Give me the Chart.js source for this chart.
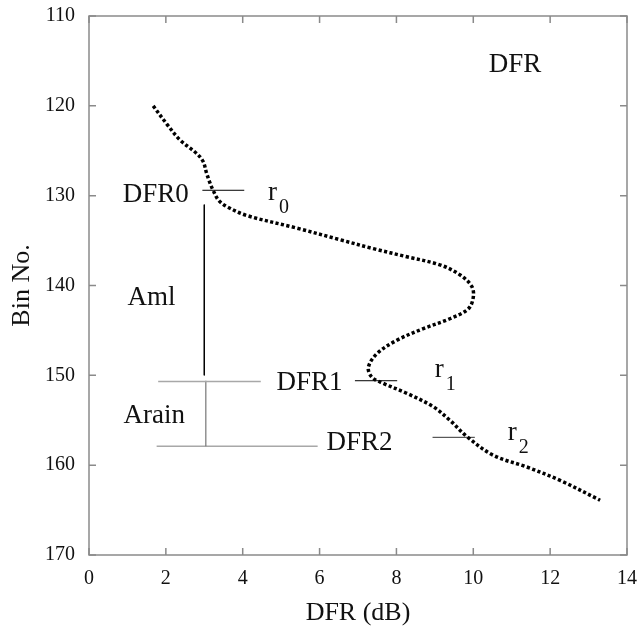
<!DOCTYPE html>
<html>
<head>
<meta charset="utf-8">
<script src="https://cdn.jsdelivr.net/npm/chart.js@4/dist/chart.umd.min.js"></script>
<style>
  html, body { margin: 0; padding: 0; background: #fff; }
  #wrap { width: 640px; height: 635px; }
</style>
</head>
<body>
<div id="wrap"><canvas id="c" width="640" height="635"></canvas></div>
<script>
// ---- data ----
const curveDFR = [1.67, 2.02, 2.37, 2.80, 2.97, 3.06, 3.15, 3.23, 3.37, 3.58, 4.10, 5.40, 6.53, 7.40, 8.27, 9.13, 9.65, 9.96, 10.0, 9.87, 9.39, 8.70, 8.01, 7.49, 7.27, 7.36, 7.66, 8.27, 8.96, 9.39, 9.83, 10.52, 11.39, 12.26, 13.30];
const curveBin = [120, 122, 123.8, 125.3, 126.2, 127.5, 128.6, 129.4, 130.5, 131.2, 132.2, 133.6, 134.9, 135.9, 136.8, 137.7, 138.8, 140.1, 141.3, 142.6, 143.7, 144.8, 146.1, 147.6, 149.1, 150.2, 150.9, 152.0, 153.5, 155.0, 156.8, 158.9, 160.2, 161.7, 163.9];

const xTicks = [0, 2, 4, 6, 8, 10, 12, 14];
const yTicks = [110, 120, 130, 140, 150, 160, 170];

// reference segments: [x1, x2, bin1, bin2]
const dfr0Mark  = [2.95, 4.04, 129.4, 129.4];
const amlBar    = [3.0, 3.0, 131.0, 150.0];
const dfr1Line  = [1.80, 4.47, 150.7, 150.7];
const dfr1Mark  = [6.92, 8.02, 150.6, 150.6];
const arainBar  = [3.04, 3.04, 150.6, 157.9];
const dfr2Line  = [1.76, 5.95, 157.9, 157.9];
const dfr2Mark  = [8.94, 10.04, 156.9, 156.9];

// text labels: [text, subscript, dfr, bin]
const labelTexts = ['DFR', 'DFR0', 'Aml', 'Arain', 'DFR1', 'DFR2', 'r', 'r', 'r'];
const labelSubs  = ['', '', '', '', '', '', '0', '1', '2'];
const labelDFR   = [10.4, 0.88, 1.0, 0.9, 4.88, 6.18, 4.66, 9.0, 10.9];
const labelBin   = [116.2, 130.7, 142.2, 155.3, 151.6, 158.3, 130.5, 150.2, 157.2];

const pts = curveDFR.map((v, i) => ({ x: v, y: curveBin[i] }));
const seg = s => [{ x: s[0], y: s[2] }, { x: s[1], y: s[3] }];

const black = '#000';
const grey = '#a8a8a8';
const segDs = (s, color, w) => ({
  data: seg(s), showLine: true, borderColor: color, borderWidth: w,
  pointRadius: 0, tension: 0, fill: false
});

const serif = '"Liberation Serif", "DejaVu Serif", serif';

const frame = {
  id: 'frame',
  afterDraw(chart) {
    const { ctx, chartArea: a, scales } = chart;
    ctx.save();
    ctx.strokeStyle = '#8a8a8a';
    ctx.lineWidth = 1.5;
    ctx.strokeRect(a.left, a.top, a.right - a.left, a.bottom - a.top);
    const tl = 7;
    ctx.beginPath();
    xTicks.forEach(v => {
      const px = scales.x.getPixelForValue(v);
      ctx.moveTo(px, a.bottom); ctx.lineTo(px, a.bottom - tl);
      ctx.moveTo(px, a.top); ctx.lineTo(px, a.top + tl);
    });
    yTicks.forEach(v => {
      const py = scales.y.getPixelForValue(v);
      ctx.moveTo(a.left, py); ctx.lineTo(a.left + tl, py);
      ctx.moveTo(a.right, py); ctx.lineTo(a.right - tl, py);
    });
    ctx.stroke();

    // annotation texts
    ctx.fillStyle = '#111';
    ctx.textBaseline = 'alphabetic';
    ctx.textAlign = 'left';
    labelTexts.forEach((t, i) => {
      const px = scales.x.getPixelForValue(labelDFR[i]);
      const py = scales.y.getPixelForValue(labelBin[i]);
      ctx.font = '27px ' + serif;
      ctx.fillText(t, px, py);
      if (labelSubs[i]) {
        const w = ctx.measureText(t).width;
        ctx.font = '20px ' + serif;
        ctx.fillText(labelSubs[i], px + w + 2, py + 13);
      }
    });
    ctx.restore();
  }
};

new Chart(document.getElementById('c'), {
  type: 'scatter',
  data: {
    datasets: [
      {
        data: pts, showLine: true, borderColor: black, borderWidth: 3.5,
        borderDash: [3.2, 2.4], borderCapStyle: 'butt', pointRadius: 0, tension: 0.35, fill: false
      },
      segDs(dfr0Mark, black, 1),
      segDs(amlBar, black, 1),
      segDs(dfr1Line, grey, 1.5),
      segDs(dfr1Mark, black, 1),
      segDs(arainBar, '#777', 1.2),
      segDs(dfr2Line, grey, 1.5),
      segDs(dfr2Mark, '#333', 1)
    ]
  },
  options: {
    responsive: false,
    animation: false,
    events: [],
    layout: { padding: { top: 16, right: 13, left: 0, bottom: 0 } },
    plugins: { legend: { display: false }, tooltip: { enabled: false } },
    scales: {
      x: {
        type: 'linear', min: 0, max: 14,
        afterBuildTicks: s => { s.ticks = xTicks.map(v => ({ value: v })); },
        afterFit: s => { s.height = 80; s.paddingLeft = 0; s.paddingRight = 0; },
        grid: { display: false, drawTicks: false },
        border: { display: false },
        ticks: { padding: 12, color: '#111', font: { family: serif, size: 20 } },
        title: { display: true, text: 'DFR (dB)', color: '#111', font: { family: serif, size: 26 }, padding: { top: 8, bottom: 6 } }
      },
      y: {
        type: 'linear', min: 110, max: 170, reverse: true,
        afterBuildTicks: s => { s.ticks = yTicks.map(v => ({ value: v })); },
        afterFit: s => { s.width = 89; s.paddingTop = 0; s.paddingBottom = 0; },
        grid: { display: false, drawTicks: false },
        border: { display: false },
        ticks: { padding: 14, color: '#111', font: { family: serif, size: 20 } },
        title: { display: true, text: 'Bin No.', color: '#111', font: { family: serif, size: 26 }, padding: { top: 7, bottom: 0 } }
      }
    }
  },
  plugins: [frame]
});
</script>
</body>
</html>
